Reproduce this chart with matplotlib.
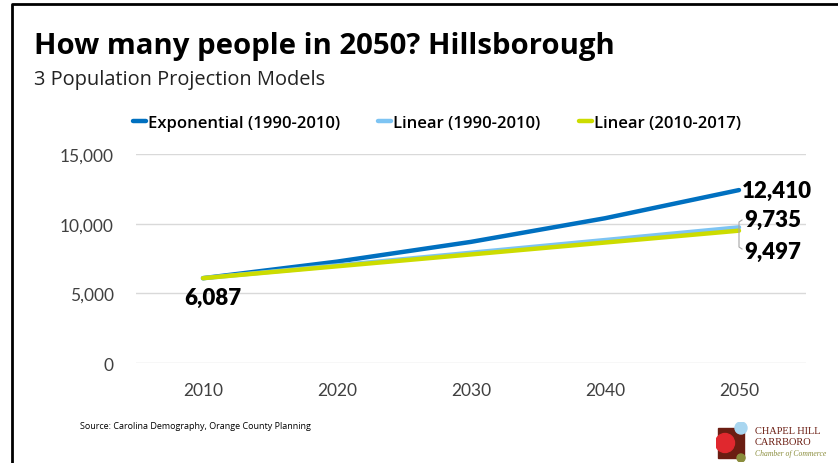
import matplotlib.pyplot as plt
from matplotlib.patches import Rectangle, Circle
from matplotlib.lines import Line2D

years = [2010, 2020, 2030, 2040, 2050]
exponential = [6087, 7274, 8693, 10388, 12410]
linear_1990 = [6087, 6999, 7911, 8823, 9735]
linear_2010 = [6087, 6940, 7792, 8645, 9497]
series_names = ['Exponential (1990-2010)', 'Linear (1990-2010)', 'Linear (2010-2017)']
colors = ['#0070C0', '#7DC4F3', '#CCDC00']
yticks = [0, 5000, 10000, 15000]

plt.rcParams['font.family'] = ['Lato', 'DejaVu Sans']

fig = plt.figure(figsize=(8.38, 4.64), dpi=100)
ax = fig.add_axes([0.1623, 0.2155, 0.7995, 0.4505])

x = list(range(len(years)))
for vals, c, name in zip([exponential, linear_1990, linear_2010], colors, series_names):
    ax.plot(x, vals, color=c, lw=3.2, solid_capstyle='round', label=name, zorder=3)

ax.set_xlim(-0.5, len(years) - 0.5)
ax.set_ylim(0, 15000)
ax.set_xticks(x)
ax.set_xticklabels([str(y) for y in years], fontsize=12.5, color='#404040')
ax.set_yticks(yticks)
ax.set_yticklabels([f'{v:,}' for v in yticks], fontsize=12.5, color='#404040')
ax.tick_params(length=0, pad=16)
ax.tick_params(axis='x', pad=14)
ax.grid(axis='y', color='#d9d9d9', lw=1)
ax.set_axisbelow(True)
for s in ax.spines.values():
    s.set_visible(False)

# value labels
lab = dict(textcoords='offset points', fontsize=16, fontweight='heavy')
ax.annotate(f'{exponential[0]:,}', (x[0], exponential[0]), xytext=(7, -6),
            ha='center', va='top', **lab)
ax.annotate(f'{exponential[-1]:,}', (x[-1], exponential[-1]), xytext=(2, 0),
            ha='left', va='center', **lab)
ax.annotate(f'{linear_1990[-1]:,}', (x[-1], linear_1990[-1]), xytext=(4, 6),
            ha='left', va='center', **lab)
ax.annotate(f'{linear_2010[-1]:,}', (x[-1], linear_2010[-1]), xytext=(4, -15),
            ha='left', va='center', **lab)
# leader bracket for the two linear labels
fig.add_artist(Line2D([742 / 838, 739 / 838, 739 / 838, 742 / 838],
                      [1 - 221 / 464, 1 - 223 / 464, 1 - 248 / 464, 1 - 250 / 464],
                      color='#a6a6a6', lw=0.8))

fig.legend(loc='center', bbox_to_anchor=(0.521, 1 - 124 / 464), ncol=3, frameon=False,
           handlelength=0.8, handletextpad=0.1, columnspacing=2.3,
           prop={'family': ['Open Sans', 'DejaVu Sans'], 'size': 12, 'weight': 'semibold'})

fig.text(34 / 838, 1 - 47 / 464, 'How many people in 2050? Hillsborough', fontsize=21.2,
         fontweight='bold', va='center', ha='left',
         family=['Open Sans', 'DejaVu Sans'])
fig.text(34 / 838, 1 - 80 / 464, '3 Population Projection Models', fontsize=14.4,
         va='center', ha='left', color='#222222', family=['Open Sans', 'DejaVu Sans'])
fig.text(80 / 838, 1 - 427 / 464, 'Source: Carolina Demography, Orange County Planning',
         fontsize=6.5, va='center', ha='left', family=['Open Sans', 'DejaVu Sans'])

# frame lines on the left and top
fig.add_artist(Line2D([12 / 838, 12 / 838, 1], [0, 1 - 5 / 464, 1 - 5 / 464], color='black', lw=2))

# chamber logo
lg = fig.add_axes([716 / 838, 1 - 463 / 464, 36 / 838, 40 / 464])
lg.set_xlim(0, 36)
lg.set_ylim(0, 40)
lg.axis('off')
lg.add_patch(Rectangle((2, 4), 26, 30, color='#6b1d12'))
lg.add_patch(Circle((9, 19), 9.5, color='#e0282e'))
lg.add_patch(Circle((25, 34), 6, color='#a9d6f0'))
lg.add_patch(Circle((25, 4), 4, color='#8a8d3c'))
fig.text(755 / 838, 1 - 432 / 464, 'CHAPEL HILL', fontsize=7.5, color='#6b1d12',
         family='Liberation Serif', va='center')
fig.text(755 / 838, 1 - 443 / 464, 'CARRBORO', fontsize=7.5, color='#6b1d12',
         family='Liberation Serif', va='center')
fig.text(755 / 838, 1 - 454 / 464, 'Chamber of Commerce', fontsize=5.5, color='#8a8d3c',
         family='Liberation Serif', style='italic', va='center')

fig.savefig('out.png', dpi=100)
